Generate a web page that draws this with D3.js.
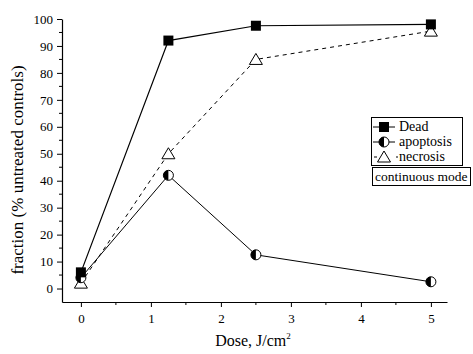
<!DOCTYPE html>
<html><head><meta charset="utf-8">
<script src="https://cdn.jsdelivr.net/npm/d3@7"></script>
<style>body{margin:0;background:#fff}svg{display:block}text{font-family:"Liberation Serif","Times New Roman",serif;fill:#000}</style>
</head><body><svg id="c" width="473" height="354"></svg>
<script>
const doses = [0, 1.25, 2.5, 5];
const dead = [6, 92, 97.5, 98];
const apoptosis = [4, 42, 12.5, 2.5];
const necrosis = [2, 50, 85, 95.5];
const xTicks = [0, 1, 2, 3, 4, 5];
const yTicks = [0, 10, 20, 30, 40, 50, 60, 70, 80, 90, 100];
const seriesNames = ["Dead", "apoptosis", "necrosis"];

const svg = d3.select("#c");
const x = d3.scaleLinear().domain([-0.27, 5.23]).range([62, 447]);
const y = d3.scaleLinear().domain([-5, 100]).range([302, 19]);

// axes
const xAxis = d3.axisBottom(x).tickValues(xTicks).tickFormat(d3.format("d")).tickSize(5).tickSizeOuter(0).tickPadding(7);
const gx = svg.append("g").attr("transform","translate(0,302)").call(xAxis);
const yAxis = d3.axisLeft(y).tickValues(yTicks).tickFormat(d3.format("d")).tickSize(5).tickSizeOuter(0).tickPadding(4);
const gy = svg.append("g").attr("transform","translate(62,0)").call(yAxis);
[gx, gy].forEach(g=>{
  g.attr("font-family", "Liberation Serif").attr("font-size", 13);
  g.selectAll("text").attr("fill","#000");
  g.select(".domain").attr("stroke","#000").attr("stroke-width",1.2);
  g.selectAll(".tick line").attr("stroke","#000");
});
// minor ticks
svg.append("g").selectAll("line").data(d3.range(0.5, 5.1, 1)).join("line")
  .attr("x1",d=>x(d)).attr("x2",d=>x(d)).attr("y1",302).attr("y2",305).attr("stroke","#000");
svg.append("g").selectAll("line").data(d3.range(5, 100, 10)).join("line")
  .attr("x1",62).attr("x2",59).attr("y1",d=>y(d)).attr("y2",d=>y(d)).attr("stroke","#000");

// axis labels
svg.append("text").attr("x", 253).attr("y", 346).attr("text-anchor","middle").style("font-size","16px")
  .html('Dose, J/cm<tspan dy="-7" style="font-size:9px">2</tspan>');
svg.append("text").attr("transform","translate(23,170) rotate(-90)").attr("text-anchor","middle")
  .style("font-size","17px").text("fraction (% untreated controls)");

const line = d3.line().x((d,i)=>x(doses[i])).y(d=>y(d));

// necrosis
svg.append("path").datum(necrosis).attr("d", line).attr("fill","none").attr("stroke","#000")
  .attr("stroke-width",1).attr("stroke-dasharray","4,4");
// apoptosis
svg.append("path").datum(apoptosis).attr("d", line).attr("fill","none").attr("stroke","#000").attr("stroke-width",1);
// dead
svg.append("path").datum(dead).attr("d", line).attr("fill","none").attr("stroke","#000").attr("stroke-width",1.2);

function triangle(g, cx, cy){
  g.append("path").attr("d","M0,-6L6.5,5L-6.5,5Z").attr("transform",`translate(${cx},${cy})`)
    .attr("fill","#fff").attr("stroke","#000").attr("stroke-width",1);
}
function halfCircle(g, cx, cy){
  const r=5;
  g.append("circle").attr("cx",cx).attr("cy",cy).attr("r",r).attr("fill","#fff").attr("stroke","#000");
  g.append("path").attr("d",`M${cx},${cy-r}A${r},${r} 0 0 0 ${cx},${cy+r}Z`).attr("fill","#000");
}
function square(g, cx, cy){
  g.append("rect").attr("x",cx-5).attr("y",cy-5).attr("width",10).attr("height",10).attr("fill","#000");
}
const mk = svg.append("g");
necrosis.forEach((v,i)=>triangle(mk, x(doses[i]), y(v)));
apoptosis.forEach((v,i)=>halfCircle(mk, x(doses[i]), y(v)));
dead.forEach((v,i)=>square(mk, x(doses[i]), y(v)));

// legend
const lg = svg.append("g");
lg.append("rect").attr("x",371.5).attr("y",117.5).attr("width",91).attr("height",48).attr("fill","#fff").attr("stroke","#000");
const rows=[127,142,157];
lg.append("line").attr("x1",373).attr("x2",395).attr("y1",rows[0]).attr("y2",rows[0]).attr("stroke","#000");
square(lg,384,rows[0]);
lg.append("line").attr("x1",373).attr("x2",395).attr("y1",rows[1]).attr("y2",rows[1]).attr("stroke","#000");
halfCircle(lg,384,rows[1]);
lg.append("line").attr("x1",374).attr("x2",398).attr("y1",rows[2]).attr("y2",rows[2]).attr("stroke","#000").attr("stroke-dasharray","3,19");
triangle(lg,384,rows[2]);
seriesNames.forEach((n,i)=>lg.append("text").attr("x",399).attr("y",rows[i]+4).style("font-size","14px").text(n));
lg.append("rect").attr("x",372.5).attr("y",167.5).attr("width",98).attr("height",18).attr("fill","#fff").attr("stroke","#000");
lg.append("text").attr("x",375).attr("y",181).style("font-size","13.5px").text("continuous mode");
</script></body></html>
